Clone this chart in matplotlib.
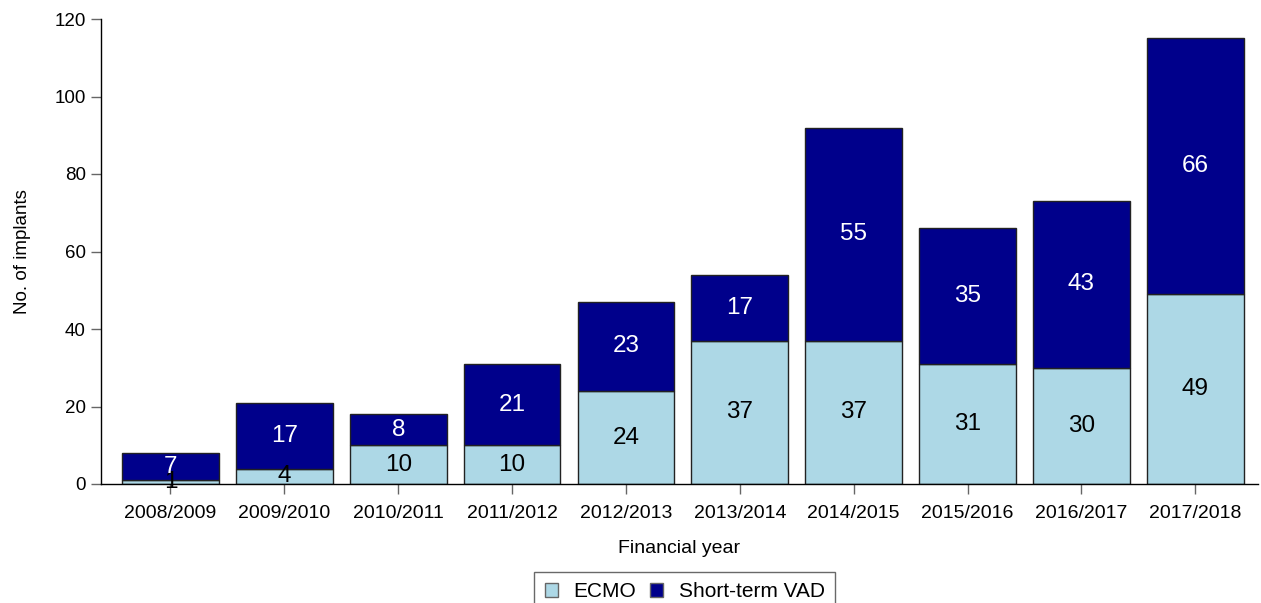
import matplotlib
matplotlib.use("Agg")
import matplotlib.pyplot as plt
import numpy as np

years = ["2008/2009", "2009/2010", "2010/2011", "2011/2012", "2012/2013",
         "2013/2014", "2014/2015", "2015/2016", "2016/2017", "2017/2018"]
ecmo = [1, 4, 10, 10, 24, 37, 37, 31, 30, 49]
vad = [7, 17, 8, 21, 23, 17, 55, 35, 43, 66]

plt.rcParams["font.family"] = ["Liberation Sans", "DejaVu Sans"]

fig = plt.figure(figsize=(12.61, 6.03), dpi=100)
ax = fig.add_axes([101 / 1261, 1 - 484 / 603, (1258 - 101) / 1261, 465 / 603])

x = np.arange(len(years))
w = 0.85
ecmo_col = "#ADD8E6"
vad_col = "#00008B"
edge = "#222222"

ax.bar(x, ecmo, w, color=ecmo_col, edgecolor=edge, linewidth=1, label="ECMO")
ax.bar(x, vad, w, bottom=ecmo, color=vad_col, edgecolor=edge, linewidth=1,
       label="Short-term VAD")

for xi, e, v in zip(x, ecmo, vad):
    ax.text(xi, e / 2, str(e), ha="center", va="center", fontsize=17.5, color="black")
    ax.text(xi, e + v / 2, str(v), ha="center", va="center", fontsize=17.5, color="white")

ax.set_xlim(-0.61, 9.55)
ax.set_ylim(0, 120)
ax.set_yticks(np.arange(0, 121, 20))
ax.set_xticks(x)
ax.set_xticklabels(years)
for s in ["top", "right"]:
    ax.spines[s].set_visible(False)
ax.spines["left"].set_linewidth(1)
ax.spines["bottom"].set_linewidth(1)
ax.tick_params(axis="y", labelsize=13.5, length=7, color="#666666", width=1, pad=4)
ax.tick_params(axis="x", labelsize=14, length=7, color="#666666", width=1, pad=8)

ax.set_ylabel("No. of implants", fontsize=13.5, labelpad=17)
ax.set_xlabel("Financial year", fontsize=14, labelpad=13)

leg = ax.legend(loc="upper center", bbox_to_anchor=(0.5045, -0.189), ncol=2,
                fontsize=15, frameon=True, fancybox=False, edgecolor="#444444",
                handlelength=0.63, handleheight=0.63, handletextpad=0.75,
                columnspacing=0.65, borderpad=0.5, borderaxespad=0)
leg.get_frame().set_linewidth(1)
for h in leg.legend_handles:
    h.set_edgecolor("#666666")

fig.savefig("out.png", dpi=100)
